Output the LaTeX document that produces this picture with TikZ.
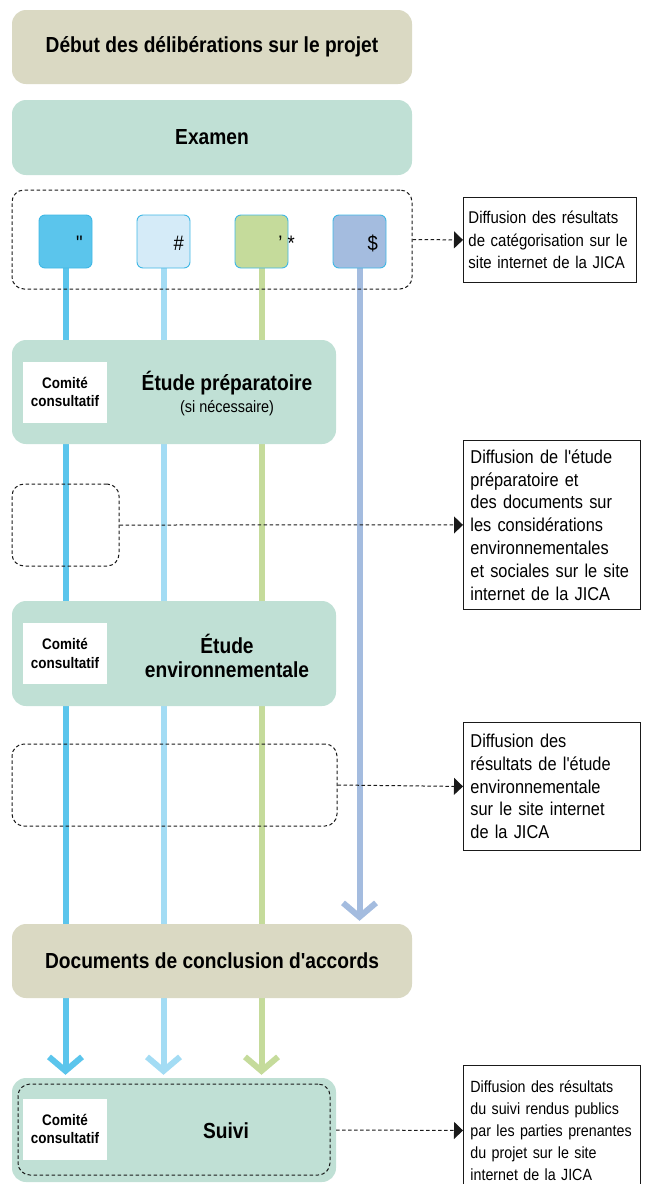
\documentclass[tikz,border=0pt]{standalone}
\usepackage{fontspec}
\setmainfont{Liberation Sans}[FakeStretch=0.88,Ligatures=TeXOff]
\usetikzlibrary{calc,arrows.meta,backgrounds}
\definecolor{khaki}{HTML}{DAD9C3}
\definecolor{mint}{HTML}{C0E0D5}
\definecolor{skyline}{HTML}{5BC5EC}
\definecolor{paleline}{HTML}{A3DCF4}
\definecolor{palebox}{HTML}{D5EBF8}
\definecolor{leaf}{HTML}{C5DB9B}
\definecolor{slate}{HTML}{A4BCDF}
\definecolor{rim}{HTML}{3FB7E5}
\definecolor{ink}{HTML}{1A1A1A}

\begin{document}
\begin{tikzpicture}[x=1pt,y=-1pt,
  stage/.style={rounded corners=14pt,inner sep=0pt,align=center,font=\bfseries\fontsize{21.8}{25}\selectfont},
  comite/.style={fill=white,minimum width=84pt,minimum height=61pt,inner sep=0pt,align=center,font=\bfseries\fontsize{15.3}{18.5}\selectfont},
  catbox/.style={draw=rim,line width=0.9pt,rounded corners=6pt,minimum size=53pt,inner sep=0pt},
  catmark/.style={anchor=base east,inner sep=0pt,font=\fontsize{21}{24}\selectfont},
  gapbox/.style={draw=ink,line width=1pt,dash pattern=on 3.5pt off 2.5pt,rounded corners=12pt,inner sep=0pt},
  infobox/.style={draw=ink,line width=0.9pt,fill=white,anchor=north west,inner xsep=7pt,inner ysep=0pt,text width=163pt,align=left,font=\fontsize{18.6}{22.8}\selectfont},
  flow/.style={line width=6pt,shorten >=3pt,-{Straight Barb[length=14pt,width=33pt]}},
  link/.style={draw=ink,line width=1pt,dash pattern=on 3.5pt off 2.5pt,-{Triangle[length=9pt,width=17pt]}}]
\useasboundingbox (0,0) rectangle (647,1184);

\node[stage,fill=khaki,minimum width=400pt,minimum height=74pt] (debut) at (212,47) {Début des délibérations sur le projet};
\node[stage,fill=mint,minimum width=400pt,minimum height=75pt] (examen) at (212,137.5) {Examen};

% categories
\node[gapbox,minimum width=400pt,minimum height=99pt] (catframe) at (212,239.5) {};
\node[catbox,fill=skyline] (cat1) at (65.5,241.5) {};
\node[catbox,fill=palebox] (cat2) at (163.5,241.5) {};
\node[catbox,fill=leaf] (cat3) at (261.5,241.5) {};
\node[catbox,fill=slate] (cat4) at (359.5,241.5) {};
\node[catmark] (mark1) at (83,250) {"};
\node[catmark] (mark2) at (184,250) {\#};
\node[catmark] (mark3) at (295,250) {’ *};
\node[catmark] (mark4) at (378,250) {\$};

\node[stage,fill=mint,minimum width=324pt,minimum height=104pt] (prep) at (174,392) {};
\node[comite] (comite1) at (65,392) {Comité\\consultatif};
\node[font=\bfseries\fontsize{21.8}{25}\selectfont,align=center] (preptitle) at (227,394) {Étude préparatoire\\[-3pt]{\mdseries\fontsize{16.4}{19}\selectfont(si nécessaire)}};
\node[gapbox,minimum width=107pt,minimum height=82pt] (prepgap) at (65.5,525) {};

\node[stage,fill=mint,minimum width=324pt,minimum height=105pt] (envi) at (174,653.5) {};
\node[comite] (comite2) at (65,653.5) {Comité\\consultatif};
\node[font=\bfseries\fontsize{21.8}{24}\selectfont,align=center] (entitle) at (227,656) {Étude\\environnementale};
\node[gapbox,minimum width=325pt,minimum height=82pt] (envgap) at (174.5,785) {};

\node[stage,fill=khaki,minimum width=400pt,minimum height=74pt] (accords) at (212,961) {Documents de conclusion d'accords};

\node[stage,fill=mint,minimum width=324pt,minimum height=104pt] (suivi) at (174,1130) {};
\node[gapbox,minimum width=312pt,minimum height=91pt] (suiviframe) at (174,1129.5) {};
\node[comite] (comite3) at (65,1129) {Comité\\consultatif};
\node[font=\bfseries\fontsize{21.8}{25}\selectfont] (suivititle) at (226,1131) {Suivi};

% diffusion boxes
\node[infobox,inner xsep=5pt,minimum height=85pt,font=\fontsize{17}{22.5}\selectfont] (info1) at (463,197) {Diffusion des résultats\\de catégorisation sur le\\site internet de la JICA};
\node[infobox,minimum height=169pt] (info2) at (463,440) {Diffusion de l'étude\\préparatoire et\\des documents sur\\les considérations\\environnementales\\et sociales sur le site\\internet de la JICA};
\node[infobox,minimum height=128pt] (info3) at (463,722) {Diffusion des\\résultats de l'étude\\environnementale\\sur le site internet\\de la JICA};
\node[infobox,minimum height=130pt,font=\fontsize{16.2}{22}\selectfont] (info4) at (463,1065) {Diffusion des résultats\\du suivi rendus publics\\par les parties prenantes\\du projet sur le site\\internet de la JICA};

\draw[link] (catframe.east) -- (info1.west);
\draw[link] (prepgap.east) -- (info2.west);
\draw[link] (envgap.east) -- (info3.west);
\draw[link] (suivi.east) -- (info4.west);

\begin{scope}[on background layer]
\draw[flow,skyline] (cat1.south) -- (cat1.south |- suivi.north);
\draw[flow,paleline] (cat2.south) -- (cat2.south |- suivi.north);
\draw[flow,leaf] (cat3.south) -- (cat3.south |- suivi.north);
\draw[flow,slate] (cat4.south) -- (cat4.south |- accords.north);
\end{scope}
\end{tikzpicture}
\end{document}
